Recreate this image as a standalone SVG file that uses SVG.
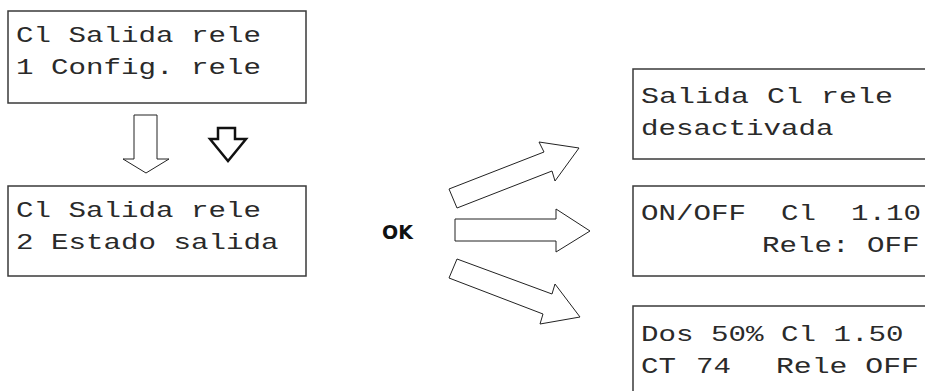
<svg xmlns="http://www.w3.org/2000/svg" width="925" height="391" viewBox="0 0 925 391">
<style>
.box{fill:#fff;stroke:#3a3a3a;stroke-width:1.5}
.lcd{font-family:"Liberation Mono","Courier New",monospace;font-size:22px;fill:#2a2a2a;white-space:pre}
.arr{fill:#fff;stroke:#222;stroke-width:1}
.arrb{fill:#fff;stroke:#111;stroke-width:2.5;stroke-linejoin:miter}
.ok{font-family:"DejaVu Sans",sans-serif;font-weight:bold;font-size:19px;fill:#111}
</style>
<rect width="925" height="391" fill="#fff"/>
<g id="box1">
<rect class="box" x="8" y="11" width="298" height="92"/>
<text class="lcd" x="16" y="42" textLength="245" lengthAdjust="spacingAndGlyphs">Cl Salida rele</text>
<text class="lcd" x="16" y="74" textLength="245" lengthAdjust="spacingAndGlyphs">1 Config. rele</text>
</g>
<g id="box2">
<rect class="box" x="8" y="186" width="298" height="90"/>
<text class="lcd" x="16" y="217" textLength="245" lengthAdjust="spacingAndGlyphs">Cl Salida rele</text>
<text class="lcd" x="16" y="249" textLength="262.5" lengthAdjust="spacingAndGlyphs">2 Estado salida</text>
</g>
<g id="boxA">
<rect class="box" x="633" y="69" width="310" height="90"/>
<text class="lcd" x="641" y="103" textLength="252" lengthAdjust="spacingAndGlyphs">Salida Cl rele</text>
<text class="lcd" x="641" y="135" textLength="192.5" lengthAdjust="spacingAndGlyphs">desactivada</text>
</g>
<g id="boxB">
<rect class="box" x="633" y="186" width="310" height="90"/>
<text class="lcd" x="641" y="220" textLength="280" lengthAdjust="spacingAndGlyphs">ON/OFF  Cl  1.10</text>
<text class="lcd" x="762" y="252" textLength="157.5" lengthAdjust="spacingAndGlyphs">Rele: OFF</text>
</g>
<g id="boxC">
<rect class="box" x="633" y="306" width="310" height="100"/>
<text class="lcd" x="641" y="341" textLength="262.5" lengthAdjust="spacingAndGlyphs">Dos 50% Cl 1.50</text>
<text class="lcd" x="641" y="373" textLength="35" lengthAdjust="spacingAndGlyphs">CT</text>
<text class="lcd" x="696" y="373" textLength="35" lengthAdjust="spacingAndGlyphs">74</text>
<text class="lcd" x="776" y="373" textLength="143" lengthAdjust="spacingAndGlyphs">Rele OFF</text>
</g>
<g id="ok">
<text class="ok" x="382" y="239">OK</text>
</g>
<g id="connectors">
<polygon class="arr" points="134,115 157,115 157,159 169,159 146,173 123,159 134,159"/>
<polygon class="arrb" points="218,128 235,128 235,139 246,139 228,161 210,139 218,139"/>
<polygon class="arr" points="449,189 544,152 539,142 579,148 555,181 552,171 457,208"/>
<polygon class="arr" points="455,219 556,219 556,209 590,231 556,252 556,241 455,241"/>
<polygon class="arr" points="457,259 552,294 555,284 580,317 540,324 543,314 449,278"/>
</g>
</svg>
